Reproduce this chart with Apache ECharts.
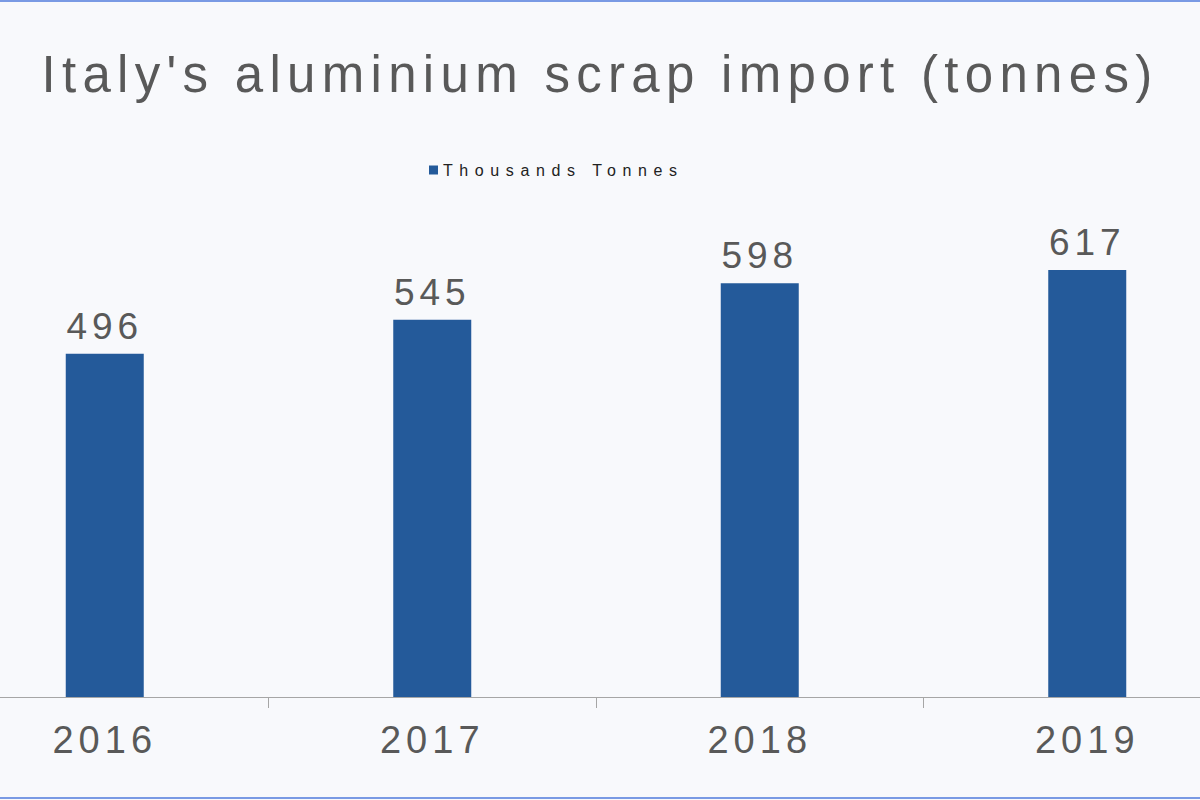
<!DOCTYPE html>
<html>
<head>
<meta charset="utf-8">
<script src="https://cdn.jsdelivr.net/npm/echarts@6/dist/echarts.min.js"></script>
<style>
    html, body { margin: 0; padding: 0; background: #f8f9fc; }
    #wrap { position: relative; width: 1200px; height: 800px; }
    #wrap:before, #wrap:after {
        content: ''; position: absolute; left: 0; width: 1200px; height: 2px;
        background: #7a9ae4; z-index: 5;
    }
    #wrap:before { top: 0; }
    #wrap:after { bottom: 1px; }
    #chart { width: 1200px; height: 800px; }
    /* the original uses wide tracking on every text */
    text[style*="51px"] { letter-spacing: 6.3px; }
    text[style*="16px"] { letter-spacing: 6.6px; }
    text[style*="37px"] { letter-spacing: 5px; }
    text[style*="38px"] { letter-spacing: 5px; }
</style>
</head>
<body>
<div id="wrap"><div id="chart"></div></div>
<script>
    var years = ['2016', '2017', '2018', '2019'];
    var importK = [496, 545, 598, 617];
    var seriesName = 'Thousands Tonnes';
    var titleText = "Italy's aluminium scrap import (tonnes)";

    var myChart = echarts.init(document.getElementById('chart'), null, { renderer: 'svg' });

    var option = {
        backgroundColor: '#f8f9fc',
        animation: false,
        title: {
            text: titleText,
            left: 'center',
            top: 44,
            textStyle: {
                fontFamily: 'Liberation Sans',
                fontSize: 51,
                fontWeight: 'normal',
                color: '#595959'
            }
        },
        legend: {
            left: 424,
            top: 157,
            itemWidth: 9,
            itemHeight: 9,
            itemGap: 4,
            icon: 'rect',
            textStyle: {
                fontFamily: 'Liberation Sans',
                fontSize: 16,
                color: '#222'
            },
            data: [seriesName]
        },
        grid: {
            left: -59,
            right: -51,
            top: 212.6,
            bottom: 103,
            outerBoundsMode: 'none'
        },
        xAxis: {
            type: 'category',
            data: years,
            axisLine: { lineStyle: { color: '#a6a6a6', width: 1 } },
            axisTick: { show: true, length: 11, lineStyle: { color: '#a6a6a6' } },
            axisLabel: {
                margin: 24,
                fontFamily: 'Liberation Sans',
                fontSize: 38,
                color: '#595959'
            }
        },
        yAxis: {
            type: 'value',
            min: 0,
            max: 700,
            show: false,
            splitLine: { show: false }
        },
        series: [{
            name: seriesName,
            type: 'bar',
            data: importK,
            barWidth: 78,
            itemStyle: { color: '#245a9a' },
            label: {
                show: true,
                position: 'top',
                distance: 9,
                fontFamily: 'Liberation Sans',
                fontSize: 37,
                color: '#595959'
            }
        }]
    };

    myChart.setOption(option);
</script>
</body>
</html>
